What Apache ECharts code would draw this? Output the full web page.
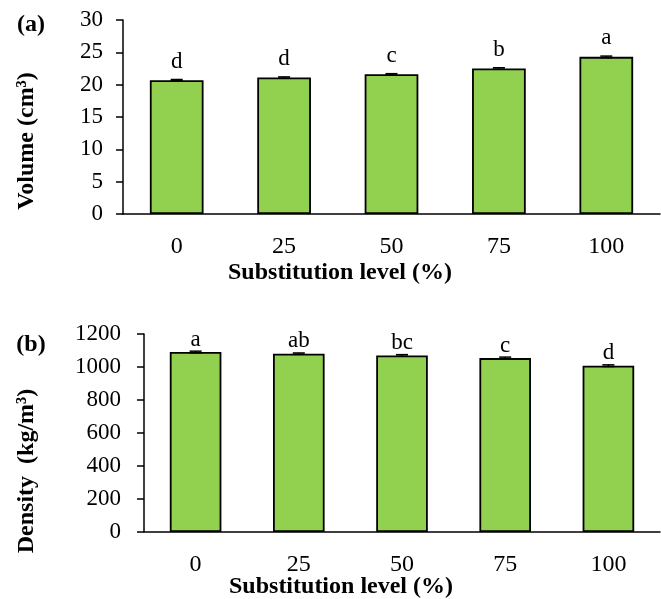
<!DOCTYPE html>
<html>
<head>
<meta charset="utf-8">
<script src="https://cdn.jsdelivr.net/npm/echarts@6/dist/echarts.min.js"></script>
<style>
html, body { margin: 0; padding: 0; background: #fff; }
#main { width: 661px; height: 599px; }
</style>
</head>
<body>
<div id="main"></div>
<script>
// substitution levels (%)
let levels = ['0', '25', '50', '75', '100'];

// panel (a) volume, cm3
let volume = [20.7, 21.1, 21.6, 22.5, 24.3];
let volumeErr = [0.1, 0.1, 0.1, 0.12, 0.12];
let volumeLetters = ['d', 'd', 'c', 'b', 'a'];

// panel (b) density, kg/m3
let density = [1091, 1081, 1070, 1054, 1008];
let densityErr = [5, 4, 5, 6, 5];
let densityLetters = ['a', 'ab', 'bc', 'c', 'd'];

let font = '"Liberation Serif", "Times New Roman", serif';
let green = '#92D050';

function errData(vals, errs) {
    return vals.map(function (v, i) { return [i, v, errs[i]]; });
}

function renderErr(params, api) {
    let x = api.value(0);
    let v = api.value(1);
    let e = api.value(2);
    let hi = api.coord([x, v + e]);
    let lo = api.coord([x, v - e]);
    let cap = 6;
    let style = { stroke: '#000', lineWidth: 1.5 };
    return {
        type: 'group',
        children: [
            { type: 'line', shape: { x1: hi[0], y1: hi[1], x2: lo[0], y2: lo[1] }, style: style },
            { type: 'line', shape: { x1: hi[0] - cap, y1: hi[1], x2: hi[0] + cap, y2: hi[1] }, style: style },
            { type: 'line', shape: { x1: lo[0] - cap, y1: lo[1], x2: lo[0] + cap, y2: lo[1] }, style: style }
        ]
    };
}

function xAxisCfg(idx) {
    return {
        type: 'category',
        gridIndex: idx,
        data: levels,
        axisTick: { show: false },
        axisLine: { lineStyle: { color: '#000', width: 1.5 } },
        axisLabel: { color: '#000', fontFamily: font, fontSize: 24, margin: 21 }
    };
}

function yAxisCfg(idx, max, interval, margin) {
    return {
        type: 'value',
        gridIndex: idx,
        min: 0,
        max: max,
        interval: interval,
        splitLine: { show: false },
        axisLine: { show: true, lineStyle: { color: '#000', width: 1.5 } },
        axisTick: { show: true, inside: false, length: 7, lineStyle: { color: '#000', width: 1.5 } },
        axisLabel: {
            color: '#000', fontFamily: font, fontSize: 23, margin: margin,
            formatter: function (v) { return String(v); }
        }
    };
}

function textEl(str, x, y, rot) {
    return {
        type: 'text',
        x: x,
        y: y,
        rotation: rot || 0,
        style: {
            text: str,
            fill: '#000',
            font: 'bold 24px ' + font,
            align: 'center',
            verticalAlign: 'middle'
        }
    };
}

let chart = echarts.init(document.getElementById('main'));
let option = {
    backgroundColor: '#fff',
    animation: false,
    grid: [
        { left: 123, right: 1, top: 20, height: 194 },
        { left: 144, right: 1, top: 334, height: 198 }
    ],
    xAxis: [xAxisCfg(0), xAxisCfg(1)],
    yAxis: [yAxisCfg(0, 30, 5, 20), yAxisCfg(1, 1200, 200, 23)],
    series: [
        {
            type: 'bar',
            xAxisIndex: 0,
            yAxisIndex: 0,
            data: volume,
            barWidth: '50%',
            itemStyle: { color: green, borderColor: '#000', borderWidth: 1.8 },
            label: {
                show: true,
                position: 'top',
                distance: 7,
                color: '#000',
                fontFamily: font,
                fontSize: 23,
                formatter: function (p) { return volumeLetters[p.dataIndex]; }
            }
        },
        {
            type: 'custom',
            xAxisIndex: 0,
            yAxisIndex: 0,
            data: errData(volume, volumeErr),
            renderItem: renderErr,
            z: 3
        },
        {
            type: 'bar',
            xAxisIndex: 1,
            yAxisIndex: 1,
            data: density,
            barWidth: '50%',
            itemStyle: { color: green, borderColor: '#000', borderWidth: 1.8 },
            label: {
                show: true,
                position: 'top',
                distance: 1,
                color: '#000',
                fontFamily: font,
                fontSize: 23,
                formatter: function (p) { return densityLetters[p.dataIndex]; }
            }
        },
        {
            type: 'custom',
            xAxisIndex: 1,
            yAxisIndex: 1,
            data: errData(density, densityErr),
            renderItem: renderErr,
            z: 3
        }
    ],
    graphic: [
        textEl('(a)', 31, 25),
        textEl('(b)', 31, 345),
        textEl('Volume (cm³)', 27, 141, Math.PI / 2),
        textEl('Density  (kg/m³)', 27, 471, Math.PI / 2),
        textEl('Substitution level (%)', 340, 273),
        textEl('Substitution level (%)', 341, 587)
    ]
};
chart.setOption(option);
</script>
</body>
</html>
